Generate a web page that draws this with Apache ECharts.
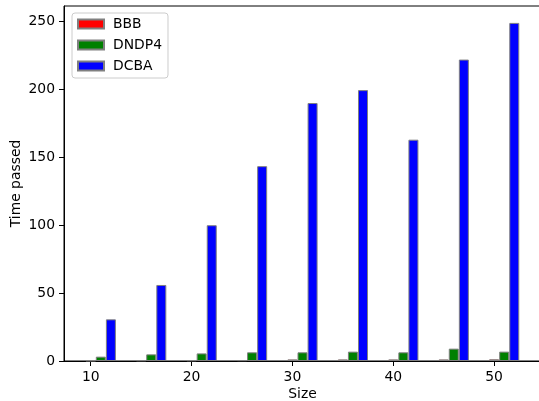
<!DOCTYPE html>
<html>
<head>
<meta charset="utf-8">
<script src="https://cdn.jsdelivr.net/npm/echarts@6/dist/echarts.min.js"></script>
<style>
  html, body { margin: 0; padding: 0; background: #fff; }
  #chart { width: 539px; height: 401px; }
</style>
</head>
<body>
<div id="chart"></div>
<script>
// sizes on the x axis, one group of bars per size
var sizes = [10, 15, 20, 25, 30, 35, 40, 45, 50];
var bbb = [0.3, 0.5, 0.5, 0.6, 1.2, 1.2, 1.2, 1.2, 1.3];
var dndp4 = [3.2, 4.9, 5.6, 6.4, 6.4, 6.9, 6.4, 9.1, 6.9];
var dcba = [30.7, 56, 100, 143.5, 190, 199.5, 163, 222, 249];
var xTicks = [10, 20, 30, 40, 50];
var yTicks = [0, 50, 100, 150, 200, 250];

var FONT = 'DejaVu Sans';

function points(offset, values) {
    var out = [];
    for (var i = 0; i < sizes.length; i++) {
        out.push([sizes[i] + offset, values[i]]);
    }
    return out;
}

function barSeries(name, color, offset, values) {
    return {
        name: name,
        type: 'bar',
        barWidth: 10,
        barGap: '-100%',
        itemStyle: { color: color, borderColor: '#808080', borderWidth: 1 },
        data: points(offset, values)
    };
}

var chart = echarts.init(document.getElementById('chart'));
chart.setOption({
    animation: false,
    textStyle: { fontFamily: FONT },
    grid: {
        left: 64, top: 6, right: -2, bottom: 40,
        outerBoundsMode: 'none',
        containLabel: false,
        show: true, borderColor: '#000', borderWidth: 1
    },
    legend: {
        orient: 'vertical',
        left: 72, top: 13,
        padding: [4, 6, 5, 5],
        icon: 'rect',
        itemWidth: 26, itemHeight: 9,
        itemGap: 7,
        backgroundColor: 'rgba(255,255,255,0.8)',
        borderColor: '#cccccc', borderWidth: 1, borderRadius: 3,
        textStyle: { fontFamily: FONT, fontSize: 13.9, color: '#000', padding: [0, 0, 0, 4] },
        data: ['BBB', 'DNDP4', 'DCBA']
    },
    xAxis: {
        type: 'value',
        min: 7.35, max: 54.65,
        name: 'Size', nameLocation: 'middle', nameGap: 26,
        nameMoveOverlap: false,
        nameTextStyle: { fontFamily: FONT, fontSize: 13.9, color: '#000' },
        splitLine: { show: false },
        axisLine: { lineStyle: { color: '#000' } },
        axisTick: { length: 5, lineStyle: { color: '#000' }, customValues: xTicks },
        axisLabel: { fontFamily: FONT, fontSize: 13.9, color: '#000', margin: 9, customValues: xTicks }
    },
    yAxis: {
        type: 'value',
        min: 0, max: 261.45,
        name: 'Time passed', nameLocation: 'middle', nameGap: 41,
        nameMoveOverlap: false,
        nameTextStyle: { fontFamily: FONT, fontSize: 13.9, color: '#000' },
        splitLine: { show: false },
        axisLine: { show: true, lineStyle: { color: '#000' } },
        axisTick: { show: true, length: 5, lineStyle: { color: '#000' }, customValues: yTicks },
        axisLabel: { fontFamily: FONT, fontSize: 13.9, color: '#000', margin: 9, customValues: yTicks }
    },
    series: [
        barSeries('BBB', '#ff0000', 0, bbb),
        barSeries('DNDP4', '#008000', 1, dndp4),
        barSeries('DCBA', '#0000ff', 2, dcba)
    ]
});
</script>
</body>
</html>
